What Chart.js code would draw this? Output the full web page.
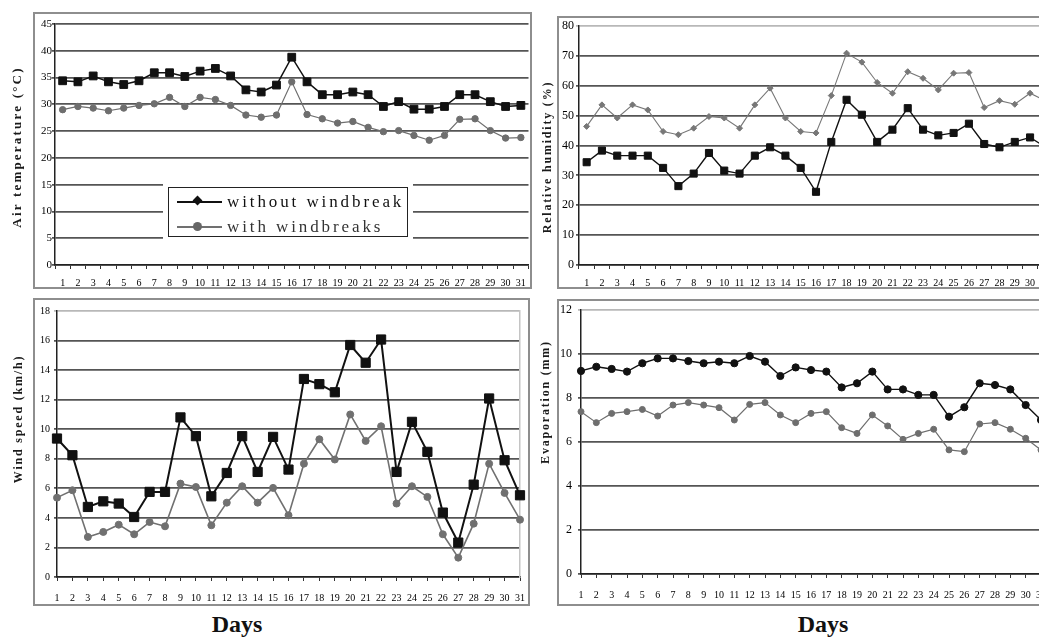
<!DOCTYPE html>
<html>
<head>
<meta charset="utf-8">
<script src="https://cdn.jsdelivr.net/npm/chart.js@4.4.1/dist/chart.umd.min.js"></script>
<style>
  html, body { margin: 0; padding: 0; background: #fff; overflow: hidden; }
  #page { position: relative; width: 1039px; height: 637px; overflow: hidden; font-family: 'Liberation Serif', 'Times New Roman', serif; color: #111; }
  .frame { position: absolute; border: 2px solid #8e8e8e; box-sizing: border-box; background: #fff; }
  canvas { position: absolute; }
  .ytitle { position: absolute; transform: translate(-50%, -50%) rotate(-90deg); white-space: nowrap; font-weight: bold; font-size: 12px; letter-spacing: 1.8px; color: #1a1a1a; }
  .days { position: absolute; transform: translateX(-50%); font-weight: bold; font-size: 24px; line-height: 24px; color: #111; }
  #legend { position: absolute; left: 168px; top: 187px; width: 240px; height: 50px; box-sizing: border-box; border: 1.5px solid #222; background: #fff; box-shadow: 0 0 0 5px #fff; overflow: hidden; }
  #legend .row { position: absolute; left: 0; width: 100%; height: 20px; }
  #legend .line { position: absolute; left: 8px; top: 9px; width: 45px; height: 2px; }
  #legend .mark { position: absolute; }
  #legend .lab { position: absolute; left: 58px; top: 0; line-height: 20px; font-size: 17px; letter-spacing: 2.9px; white-space: nowrap; }
</style>
</head>
<body>
<div id="page">
  <div class="frame" style="left:33px; top:12px; width:499px; height:277px;"></div>
  <div class="frame" style="left:557px; top:16px; width:520px; height:273px;"></div>
  <div class="frame" style="left:33px; top:298px; width:497px; height:308px;"></div>
  <div class="frame" style="left:557px; top:299px; width:520px; height:307px;"></div>

  <canvas id="c1"></canvas>
  <canvas id="c2"></canvas>
  <canvas id="c3"></canvas>
  <canvas id="c4"></canvas>

  <div class="ytitle" style="left:17px; top:147px; font-size:13px; letter-spacing:2.2px;">Air temperature (°C)</div>
  <div class="ytitle" style="left:547px; top:157px;">Relative humidity (%)</div>
  <div class="ytitle" style="left:18px; top:419px;">Wind speed (km/h)</div>
  <div class="ytitle" style="left:545px; top:402px;">Evaporation (mm)</div>

  <div class="days" style="left:237px; top:612px;">Days</div>
  <div class="days" style="left:823px; top:612px;">Days</div>

  <div id="legend">
    <div class="row" style="top:4px;">
      <div class="line" style="background:#111;"></div>
      <div class="mark" style="left:25px; top:5px; width:7px; height:7px; background:#111; transform:rotate(45deg);"></div>
      <div class="lab" style="color:#111;">without windbreak</div>
    </div>
    <div class="row" style="top:29px;">
      <div class="line" style="background:#707070;"></div>
      <div class="mark" style="left:24px; top:5px; width:9px; height:9px; border-radius:50%; background:#666;"></div>
      <div class="lab" style="color:#333;">with windbreaks</div>
    </div>
  </div>
</div>

<script>
const days = ['1','2','3','4','5','6','7','8','9','10','11','12','13','14','15','16',
              '17','18','19','20','21','22','23','24','25','26','27','28','29','30','31'];

// Air temperature (°C)
const tempWithout = [34.4,34.2,35.3,34.2,33.7,34.4,35.9,35.9,35.2,36.2,36.7,35.3,32.7,32.3,33.6,38.8,
                     34.2,31.8,31.8,32.3,31.8,29.6,30.5,29.1,29.1,29.6,31.8,31.8,30.5,29.6,29.8];
const tempWith = [29.0,29.6,29.3,28.8,29.3,29.8,30.1,31.3,29.6,31.3,30.9,29.8,28.0,27.6,28.0,34.2,
                  28.1,27.3,26.5,26.8,25.7,24.9,25.1,24.2,23.3,24.2,27.2,27.3,25.1,23.7,23.8];

// Relative humidity (%)
const humWithout = [34.4,38.3,36.6,36.6,36.6,32.5,26.4,30.6,37.5,31.6,30.6,36.6,39.4,36.6,32.5,24.5,
                    41.2,55.3,50.3,41.2,45.3,52.5,45.3,43.4,44.2,47.3,40.5,39.4,41.2,42.7,39.5];
const humWith = [46.4,53.6,49.2,53.6,51.9,44.7,43.6,45.8,49.7,49.2,45.8,53.6,59.2,49.2,44.7,44.2,
                 56.7,70.9,67.9,61.1,57.5,64.7,62.5,58.6,64.2,64.4,52.7,55.0,53.8,57.5,55.0];

// Wind speed (km/h)
const windWithout = [9.37,8.24,4.74,5.12,4.97,4.06,5.76,5.76,10.8,9.53,5.46,7.04,9.53,7.11,9.48,7.27,
                     13.4,13.05,12.5,15.7,14.5,16.07,7.11,10.5,8.47,4.36,2.33,6.25,12.08,7.9,5.53];
const windWith = [5.37,5.87,2.71,3.05,3.54,2.89,3.72,3.43,6.32,6.09,3.5,5.03,6.14,5.03,6.03,4.18,
                  7.67,9.32,7.95,11.0,9.21,10.2,4.97,6.14,5.42,2.89,1.31,3.61,7.67,5.69,3.88];

// Evaporation (mm)
const evapWithout = [9.23,9.42,9.32,9.2,9.58,9.8,9.8,9.68,9.58,9.65,9.58,9.91,9.65,9.0,9.39,9.27,
                     9.2,8.48,8.67,9.2,8.39,8.39,8.14,8.14,7.15,7.58,8.67,8.59,8.39,7.68,7.0];
const evapWith = [7.38,6.88,7.3,7.38,7.48,7.18,7.68,7.79,7.68,7.56,7.0,7.71,7.79,7.23,6.88,7.3,
                  7.38,6.65,6.39,7.23,6.73,6.12,6.39,6.58,5.64,5.56,6.82,6.88,6.58,6.17,5.64];

const serif = 'Liberation Serif, Times New Roman, serif';

function serie(data, color, width, style, radius) {
    return {
        data: data,
        borderColor: color,
        borderWidth: width,
        pointStyle: style,
        pointRadius: radius,
        pointBackgroundColor: color,
        pointBorderColor: color,
        pointBorderWidth: 1,
        tension: 0,
        clip: false
    };
}

// box = canvas rect on the page, area = wanted plot area on the page
function panel(id, box, area, y, x, datasets) {
    const canvas = document.getElementById(id);
    canvas.width = box.w;
    canvas.height = box.h;
    canvas.style.left = box.x + 'px';
    canvas.style.top = box.y + 'px';

    return new Chart(canvas, {
        type: 'line',
        data: { labels: days, datasets: datasets },
        options: {
            responsive: false,
            animation: false,
            layout: { padding: { left: 0, top: area.top - box.y, right: box.x + box.w - area.right, bottom: 0 } },
            plugins: { legend: { display: false }, tooltip: { enabled: false } },
            scales: {
                x: {
                    offset: x.offset,
                    grid: { offset: x.offset, drawOnChartArea: false, tickLength: 4, color: '#333', lineWidth: 1 },
                    border: { color: '#222', width: 1.5 },
                    ticks: { autoSkip: false, maxRotation: 0, minRotation: 0, padding: x.pad, color: '#000',
                             font: { family: serif, size: 10 } },
                    afterFit: s => { s.height = box.y + box.h - area.bottom; s.paddingLeft = 0; s.paddingRight = 0; }
                },
                y: {
                    min: y.min,
                    max: y.max,
                    ticks: { stepSize: y.step, padding: y.pad, color: '#000', font: { family: serif, size: y.font } },
                    grid: {
                        color: c => (y.lightTop && c.tick && c.tick.value === y.max) ? '#b8b8b8' : '#555',
                        lineWidth: 1.8,
                        tickLength: 3
                    },
                    border: { color: '#222', width: 1.5 },
                    afterFit: s => { s.width = area.left - box.x; s.paddingTop = 0; s.paddingBottom = 0; }
                },
                // plain right edge of the plot area, no ticks
                edge: {
                    type: 'linear',
                    position: 'right',
                    display: y.edge,
                    ticks: { display: false },
                    grid: { drawOnChartArea: false, drawTicks: false },
                    border: { color: '#c4c4c4', width: 1.5 },
                    afterFit: s => { s.width = 0; }
                }
            }
        }
    });
}

panel('c1', { x: 0, y: 0, w: 535, h: 295 }, { left: 55, top: 24, right: 530, bottom: 265 },
      { min: 0, max: 45, step: 5, pad: 0, font: 11, lightTop: false, edge: false }, { offset: true, pad: 8 },
      [serie(tempWith, '#6e6e6e', 1.2, 'circle', 3.2), serie(tempWithout, '#111', 1.5, 'rect', 5.5)]);

panel('c2', { x: 535, y: 0, w: 525, h: 295 }, { left: 579, top: 26, right: 1053, bottom: 265 },
      { min: 0, max: 80, step: 10, pad: 2, font: 12, lightTop: true, edge: false }, { offset: true, pad: 8 },
      [serie(humWith, '#777', 1.1, 'rectRot', 3), serie(humWithout, '#111', 1.4, 'rect', 5)]);

panel('c3', { x: 0, y: 295, w: 535, h: 315 }, { left: 57, top: 311, right: 520, bottom: 577 },
      { min: 0, max: 18, step: 2, pad: 4, font: 10, lightTop: true, edge: true }, { offset: false, pad: 11 },
      [serie(windWith, '#707070', 1.6, 'circle', 3.5), serie(windWithout, '#111', 2, 'rect', 6.5)]);

panel('c4', { x: 535, y: 295, w: 525, h: 315 }, { left: 581, top: 310, right: 1041, bottom: 574 },
      { min: 0, max: 12, step: 2, pad: 6, font: 12, lightTop: true, edge: false }, { offset: false, pad: 11 },
      [serie(evapWith, '#6e6e6e', 1.2, 'circle', 3), serie(evapWithout, '#111', 1.4, 'circle', 3.6)]);
</script>
</body>
</html>
